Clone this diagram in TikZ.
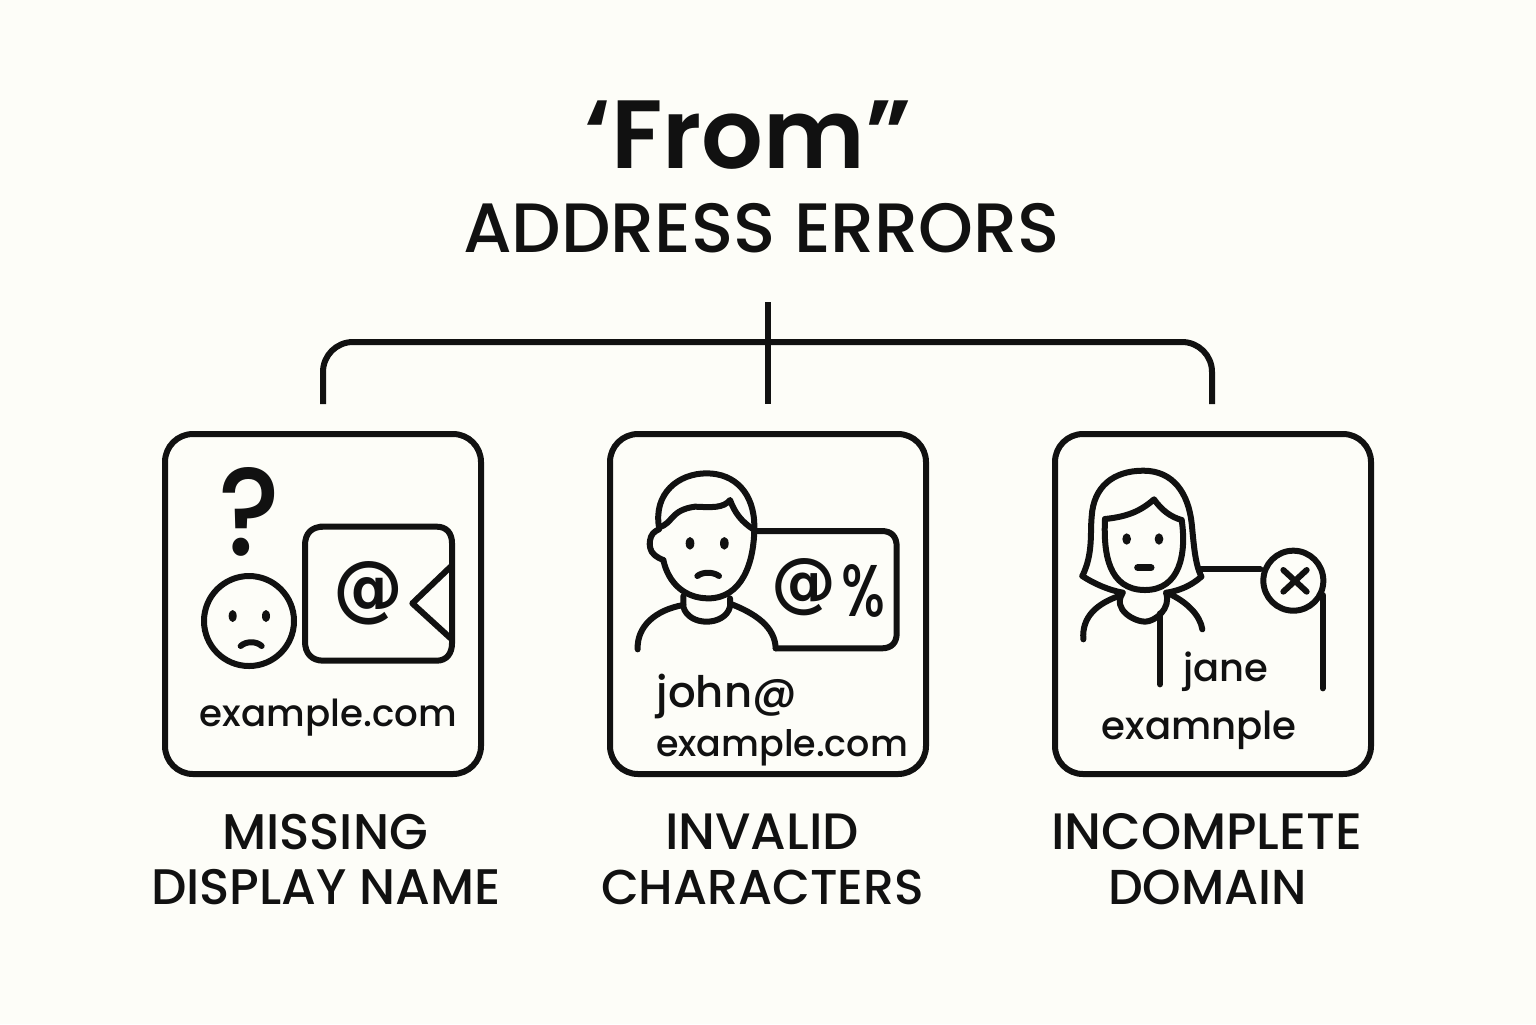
\documentclass[tikz,border=0pt]{standalone}
\usepackage{fontspec}
\usepackage{graphicx}
\setmainfont{Poppins}
\newfontfamily\medfont{Poppins Medium}
\newfontfamily\boldfont{Poppins SemiBold}
\newfontfamily\symfont{DejaVu Sans Bold}
\newdimen\pxu \pxu=0.5pt
\newcommand{\fittext}[2]{\resizebox{#1\pxu}{!}{\fontsize{24}{28}\medfont #2}}
\newcommand{\fitbold}[2]{\resizebox{#1\pxu}{!}{\fontsize{24}{28}\boldfont #2}}
\newcommand{\fitsym}[3]{\resizebox{#1\pxu}{#2\pxu}{\fontsize{24}{28}\symfont #3}}
\newcommand{\fitbox}[3]{\resizebox{#1\pxu}{#2\pxu}{\fontsize{24}{28}\medfont #3}}
\definecolor{ink}{HTML}{111111}
\definecolor{paper}{HTML}{FDFDF8}
\tikzset{
  thick line/.style={draw=ink,line width=3pt,line cap=round,line join=round},
  panel/.style={draw=ink,line width=3pt,rounded corners=14pt,minimum width=158pt,minimum height=170pt,inner sep=0pt},
  word/.style={anchor=base,text=ink,inner sep=0pt,outer sep=0pt},
  pen/.style={draw=ink,line width=3pt,line cap=round,line join=round},
  dot/.style={fill=ink,draw=none},
  zoomed/.style={x=0.16667pt,y=-0.16667pt}
}
\begin{document}
\begin{tikzpicture}[x=0.5pt,y=-0.5pt]
\useasboundingbox (0,0) rectangle (1536,1024);
\fill[paper] (0,0) rectangle (1536,1024);
% titles
\node[word] (title) at (748,168) {\fitbold{327}{‘From”}};
\node[word] (subtitle) at (761.5,252) {\fittext{597}{ADDRESS ERRORS}};
% panels
\node[panel] (box1) at (323,604) {};
\node[panel] (box2) at (768,604) {};
\node[panel] (box3) at (1213,604) {};
% connectors
\coordinate (trunkTop) at (768,302);
\coordinate (trunkBot) at (768,404);
\coordinate (dropL) at (323,404);
\coordinate (dropR) at (1212,404);
\coordinate (barL) at (323,342);
\coordinate (barR) at (1212,342);
\draw[thick line,line cap=butt,rounded corners=15pt] (dropL) -- (barL) -- (barR) -- (dropR);
\draw[thick line,line cap=butt] (trunkTop) -- (trunkBot);
% panel 1
\begin{scope}[shift={(150,420)},zoomed]
\node[word,anchor=center] (qmark) at (297,277) {\fitbox{62}{88}{?}};
\node[draw=ink,line width=3pt,circle,minimum size=45pt,inner sep=0pt] (face1) at (297,603) {};
\fill[dot] (248,588) ellipse [x radius=12,y radius=18];
\fill[dot] (348,588) ellipse [x radius=12,y radius=18];
\draw[pen] (272,678) .. controls (288,663) and (320,663) .. (335,678);
\draw[pen] (510,320) -- (860,320) .. controls (890,320) and (906,340) .. (906,370) -- (906,670)
  .. controls (906,700) and (890,722) .. (860,722) -- (520,722)
  .. controls (485,722) and (465,700) .. (465,665) -- (465,375)
  .. controls (465,340) and (485,320) .. (520,320);
\draw[pen] (902,440) -- (787,550) -- (902,655);
\node[word,anchor=center] (at1) at (655,520) {\fitsym{70}{51}{@}};
\node[word] (mail1) at (535,918) {\fittext{257}{example.com}};
\end{scope}
% panel 2
\begin{scope}[shift={(595,420)},zoomed]
\draw[pen] (192,322) .. controls (175,220) and (250,160) .. (335,160) .. controls (420,160) and (478,220) .. (478,320)
  .. controls (478,430) and (440,535) .. (340,535) .. controls (270,535) and (220,490) .. (205,420);
\draw[pen] (192,322) .. controls (235,310) and (225,270) .. (300,260) .. controls (350,262) and (385,265) .. (405,240) .. controls (420,280) and (440,305) .. (475,328);
\draw[pen] plot[smooth,tension=0.8] coordinates {(192,328) (168,350) (170,395) (205,420)};
\fill[dot] (285,370) ellipse [x radius=13,y radius=19];
\fill[dot] (388,370) ellipse [x radius=13,y radius=19];
\draw[pen] (307,468) .. controls (322,455) and (355,455) .. (372,468);
\draw[pen] (265,528) -- (265,560) .. controls (280,620) and (390,620) .. (405,560) -- (405,535);
\draw[pen] (265,555) .. controls (180,570) and (125,620) .. (128,688);
\draw[pen] (408,552) .. controls (480,580) and (540,620) .. (542,685);
\draw[pen] (478,333) -- (860,333) .. controls (890,333) and (905,350) .. (905,380) -- (905,640)
  .. controls (905,668) and (890,685) .. (860,685) -- (542,685);
\node[word,anchor=center] (at2) at (627,502) {\fitsym{65}{46}{@}};
\node[word,anchor=center] (pct) at (805,512) {\fitbox{44}{52}{\%}};
\node[word] (john) at (395,862) {\fittext{140}{john@}};
\node[word] (mail2) at (561,1008) {\fittext{252}{example.com}};
\end{scope}
% panel 3
\begin{scope}[shift={(1040,420)},zoomed]
\draw[pen] (127,468) .. controls (160,400) and (150,340) .. (155,290) .. controls (160,200) and (220,152) .. (310,152) .. controls (400,152) and (445,220) .. (455,310) .. controls (462,380) and (465,430) .. (484,470);
\draw[pen] (127,468) .. controls (160,490) and (205,510) .. (248,518);
\draw[pen] (484,470) .. controls (450,500) and (415,512) .. (380,518);
\draw[pen] (195,297) .. controls (190,400) and (205,510) .. (315,510) .. controls (420,510) and (440,400) .. (425,300);
\draw[pen] (195,297) .. controls (260,290) and (300,275) .. (342,238) .. controls (365,270) and (390,290) .. (425,300);
\fill[dot] (260,357) ellipse [x radius=13,y radius=17];
\fill[dot] (357,357) ellipse [x radius=13,y radius=17];
\draw[pen,line width=3.5pt] (293,443) -- (333,443);
\draw[pen] (248,518) .. controls (215,570) and (285,605) .. (315,605) .. controls (345,605) and (395,565) .. (378,518);
\draw[pen] (245,525) .. controls (170,550) and (125,590) .. (130,658);
\draw[pen] (385,520) .. controls (440,545) and (480,585) .. (487,628);
\draw[pen] (360,580) -- (360,793);
\node[draw=ink,line width=3pt,circle,minimum size=30pt,inner sep=0pt] (xmark) at (760,482) {};
\coordinate (hairR) at (480,448);
\coordinate (circleTail) at (848,805);
\draw[pen] (hairR) -- (hairR -| xmark.west);
\draw[pen] (730,450) -- (800,515);
\draw[pen] (800,450) -- (730,515);
\draw[pen] (848,525) -- (circleTail);
\node[word] (jane) at (558,785) {\fittext{85}{jane}};
\node[word] (mail3) at (478,958) {\fittext{195}{examnple}};
\end{scope}
% labels
\node[word] (l1a) at (325,849) {\fittext{206}{MISSING}};
\node[word] (l1b) at (326,904) {\fittext{350}{DISPLAY NAME}};
\node[word] (l2a) at (762,849) {\fittext{194}{INVALID}};
\node[word] (l2b) at (762.5,904) {\fittext{323}{CHARACTERS}};
\node[word] (l3a) at (1206.5,849) {\fittext{311}{INCOMPLETE}};
\node[word] (l3b) at (1207.5,904) {\fittext{199}{DOMAIN}};
\end{tikzpicture}
\end{document}
